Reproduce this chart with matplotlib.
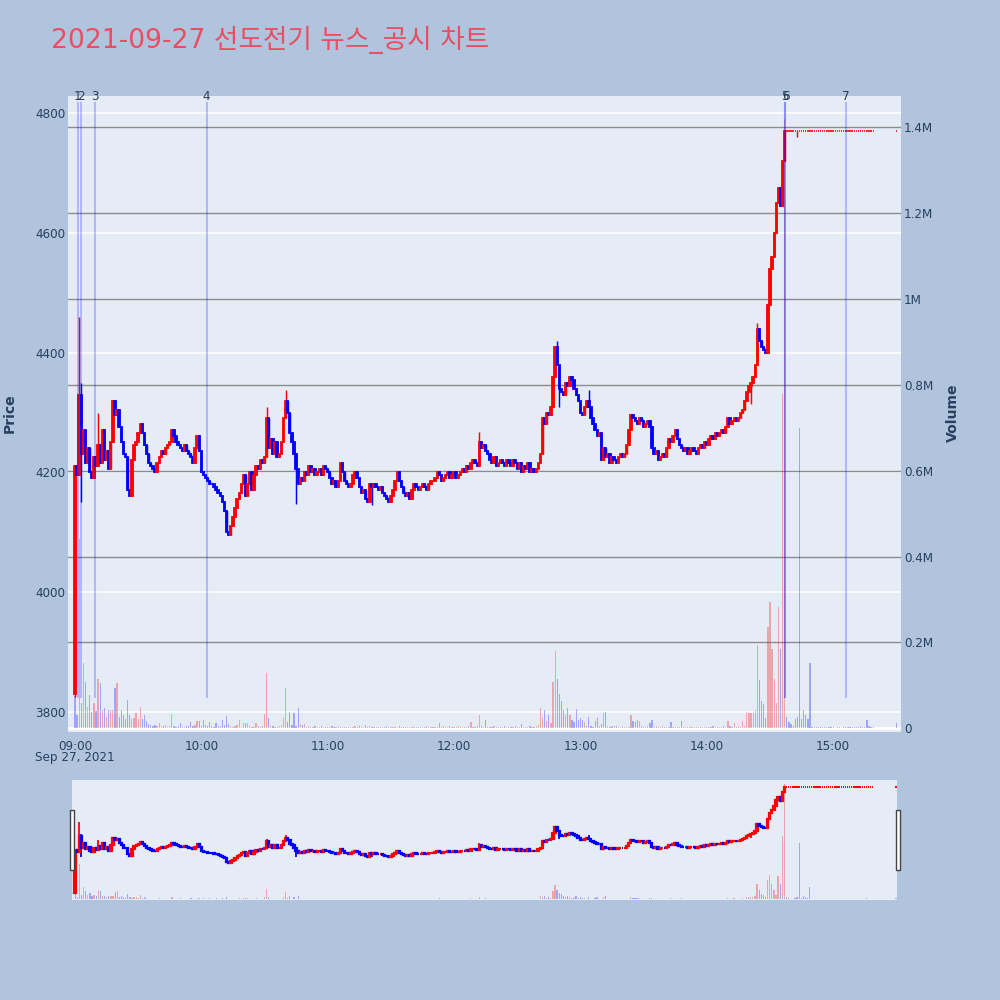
import matplotlib
matplotlib.use("Agg")
import matplotlib.pyplot as plt
import matplotlib.dates as mdates
import matplotlib.transforms as mtransforms
from matplotlib.patches import Rectangle
from datetime import datetime, timedelta

TITLE = "2021-09-27 선도전기 뉴스_공시 차트"
SESSION_START = datetime(2021, 9, 27, 9, 0)

# minute offsets from 09:00 (continuous session 09:00-15:19, closing auction 15:30)
minute_offsets = list(range(380)) + [390]
first_open = 3830

closes = [
    4210, 4195, 4330, 4230, 4270, 4215, 4240, 4200, 4190, 4225,
    4210, 4245, 4215, 4270, 4220, 4235, 4205, 4250, 4320, 4295,
    4305, 4275, 4250, 4230, 4225, 4170, 4160, 4220, 4245, 4250,
    4265, 4280, 4265, 4245, 4230, 4215, 4210, 4205, 4200, 4215,
    4225, 4235, 4230, 4240, 4245, 4250, 4270, 4260, 4250, 4245,
    4240, 4235, 4245, 4235, 4230, 4225, 4215, 4240, 4260, 4235,
    4200, 4195, 4190, 4185, 4180, 4180, 4175, 4170, 4165, 4160,
    4150, 4135, 4100, 4095, 4110, 4125, 4140, 4155, 4165, 4180,
    4195, 4160, 4180, 4200, 4170, 4195, 4210, 4205, 4220, 4215,
    4225, 4290, 4240, 4255, 4230, 4250, 4225, 4230, 4250, 4290,
    4320, 4300, 4265, 4250, 4230, 4205, 4180, 4190, 4185, 4200,
    4195, 4210, 4200, 4205, 4195, 4200, 4205, 4195, 4210, 4205,
    4200, 4190, 4180, 4185, 4175, 4185, 4215, 4200, 4185, 4180,
    4175, 4180, 4195, 4200, 4190, 4175, 4165, 4170, 4155, 4150,
    4180, 4175, 4180, 4175, 4170, 4175, 4165, 4160, 4155, 4150,
    4160, 4170, 4185, 4200, 4185, 4175, 4165, 4160, 4165, 4155,
    4170, 4180, 4175, 4170, 4175, 4180, 4175, 4170, 4180, 4185,
    4185, 4190, 4200, 4195, 4185, 4190, 4195, 4200, 4190, 4195,
    4200, 4190, 4195, 4200, 4205, 4200, 4210, 4205, 4215, 4220,
    4215, 4210, 4250, 4240, 4245, 4235, 4230, 4220, 4215, 4225,
    4210, 4215, 4220, 4215, 4210, 4220, 4215, 4210, 4220, 4215,
    4205, 4215, 4200, 4210, 4205, 4215, 4200, 4205, 4200, 4205,
    4215, 4230, 4290, 4280, 4300, 4295, 4310, 4360, 4410, 4380,
    4340, 4335, 4330, 4350, 4345, 4360, 4355, 4340, 4330, 4320,
    4300, 4295, 4310, 4320, 4310, 4290, 4280, 4270, 4260, 4265,
    4220, 4240, 4225, 4230, 4215, 4225, 4220, 4215, 4225, 4230,
    4225, 4230, 4245, 4270, 4295, 4290, 4285, 4280, 4290, 4285,
    4275, 4280, 4285, 4275, 4240, 4230, 4235, 4220, 4225, 4230,
    4225, 4240, 4255, 4250, 4260, 4270, 4255, 4245, 4240, 4235,
    4240, 4230, 4235, 4240, 4235, 4230, 4240, 4245, 4240, 4250,
    4245, 4255, 4260, 4255, 4265, 4260, 4265, 4270, 4265, 4275,
    4290, 4280, 4285, 4290, 4285, 4290, 4300, 4305, 4320, 4335,
    4345, 4350, 4360, 4380, 4440, 4420, 4410, 4405, 4400, 4480,
    4540, 4560, 4600, 4650, 4675, 4645, 4720, 4770, 4770, 4770,
    4770, 4770, 4770, 4770, 4770, 4770, 4770, 4770, 4770, 4770,
    4770, 4770, 4770, 4770, 4770, 4770, 4770, 4770, 4770, 4770,
    4770, 4770, 4770, 4770, 4770, 4770, 4770, 4770, 4770, 4770,
    4770, 4770, 4770, 4770, 4770, 4770, 4770, 4770, 4770, 4770,
    4770,
]

wick_highs = {2: 4460, 3: 4350, 11: 4300, 91: 4310, 100: 4338, 192: 4268,
              229: 4420, 244: 4338, 324: 4450}
wick_lows = {0: 3825, 3: 4150, 105: 4147, 141: 4145, 230: 4310, 321: 4315,
             343: 4760}

volumes_k = [
    75, 30, 440, 60, 151, 107, 49, 77, 37, 58,
    40, 116, 105, 42, 47, 26, 42, 42, 42, 95,
    105, 26, 42, 30, 21, 65, 30, 21, 23, 35,
    21, 49, 21, 30, 16, 10, 8, 6, 7, 5,
    12, 6, 5, 8, 4, 6, 33, 5, 4, 6,
    12, 4, 3, 5, 6, 14, 5, 8, 16, 16,
    6, 19, 8, 5, 14, 6, 4, 12, 5, 6,
    19, 8, 28, 10, 6, 4, 5, 8, 19, 4,
    12, 12, 12, 5, 4, 3, 12, 6, 4, 5,
    33, 128, 23, 6, 5, 4, 3, 5, 8, 23,
    93, 14, 37, 8, 35, 6, 47, 10, 8, 10,
    4, 5, 3, 4, 6, 3, 2, 5, 4, 3,
    4, 3, 5, 2, 3, 6, 4, 3, 2, 4,
    3, 2, 4, 5, 3, 6, 2, 3, 8, 4,
    5, 3, 2, 4, 3, 2, 4, 3, 5, 2,
    3, 4, 2, 3, 5, 2, 3, 4, 2, 3,
    4, 2, 3, 2, 4, 3, 2, 5, 3, 2,
    3, 4, 2, 12, 3, 5, 4, 2, 6, 3,
    4, 2, 5, 3, 4, 2, 3, 5, 14, 4,
    3, 6, 30, 5, 4, 19, 3, 2, 4, 5,
    2, 4, 3, 2, 5, 3, 2, 4, 3, 5,
    2, 3, 9, 4, 3, 2, 5, 3, 4, 6,
    8, 47, 23, 42, 16, 30, 12, 109, 181, 116,
    81, 63, 42, 30, 47, 30, 19, 14, 44, 19,
    23, 19, 14, 6, 26, 5, 4, 16, 23, 5,
    9, 35, 37, 5, 3, 5, 5, 5, 3, 2,
    3, 2, 4, 3, 30, 16, 14, 19, 16, 5,
    4, 3, 5, 12, 19, 3, 5, 2, 4, 5,
    3, 4, 2, 14, 3, 4, 2, 3, 16, 4,
    3, 3, 2, 4, 3, 2, 3, 2, 4, 3,
    2, 3, 4, 5, 3, 2, 4, 3, 5, 2,
    16, 5, 3, 12, 4, 5, 3, 16, 6, 35,
    35, 35, 35, 42, 193, 112, 63, 56, 23, 237,
    295, 185, 114, 60, 283, 185, 779, 1420, 26, 14,
    9, 5, 21, 26, 700, 21, 42, 30, 21, 153,
    3, 2, 4, 2, 3, 2, 2, 3, 2, 2,
    2, 1, 2, 2, 1, 2, 2, 3, 2, 2,
    4, 3, 2, 5, 3, 2, 19, 5, 3, 2,
    13,
]

news_times = ["09:01:20", "09:02:40", "09:09:20", "10:02:30",
              "14:37:10", "14:37:20", "15:06:10"]
news_labels = ["1", "2", "3", "4", "5", "6", "7"]

price_ticks = [3800, 4000, 4200, 4400, 4600, 4800]
volume_ticks = [0, 200000, 400000, 600000, 800000, 1000000, 1200000, 1400000]
volume_tick_labels = ["0", "0.2M", "0.4M", "0.6M", "0.8M", "1M", "1.2M", "1.4M"]
hour_ticks = ["09:00", "10:00", "11:00", "12:00", "13:00", "14:00", "15:00"]

# ---------------------------------------------------------------- derived
assert len(closes) == len(minute_offsets) == len(volumes_k)
times = [SESSION_START + timedelta(minutes=m) for m in minute_offsets]
xs = mdates.date2num(times)
opens = [first_open] + closes[:-1]
highs = [max(o, c, wick_highs.get(i, c)) for i, (o, c) in enumerate(zip(opens, closes))]
lows = [min(o, c, wick_lows.get(i, c)) for i, (o, c) in enumerate(zip(opens, closes))]
volumes = [v * 1000 for v in volumes_k]

RED, BLUE = "#ff0000", "#0000ff"
candle_cols = []
state, prev_c = True, None
for o, c in zip(opens, closes):
    if c > o:
        state = True
    elif c < o:
        state = False
    elif prev_c is not None and c != prev_c:
        state = c > prev_c
    candle_cols.append(RED if state else BLUE)
    prev_c = c
vol_cols = [BLUE] + [RED if closes[i] > closes[i - 1] else BLUE for i in range(1, len(closes))]

MIN = 1.0 / 1440.0
x0 = mdates.date2num(SESSION_START)
PRICE_LIM = (3767, 4829)
VOL_LIM = (-7900, 1473600)

TXT = "#2a3f5f"
BG = "#e5ecf6"

fig = plt.figure(figsize=(10, 10), dpi=100, facecolor="#b0c4de")


def draw_candles(a, body_w, lw):
    a.vlines(xs, lows, highs, colors=candle_cols, linewidth=lw * 0.8, zorder=3)
    moving = [i for i in range(len(xs)) if opens[i] != closes[i]]
    flat = [i for i in range(len(xs)) if opens[i] == closes[i]]
    a.bar([xs[i] for i in moving],
          [abs(closes[i] - opens[i]) for i in moving],
          bottom=[min(opens[i], closes[i]) for i in moving],
          width=body_w, color=[candle_cols[i] for i in moving],
          edgecolor=[candle_cols[i] for i in moving], linewidth=lw, zorder=3)
    a.hlines([closes[i] for i in flat],
             [xs[i] - body_w * 0.5 for i in flat],
             [xs[i] + body_w * 0.5 for i in flat],
             colors=[candle_cols[i] for i in flat], linewidth=lw * 0.9,
             capstyle="butt", zorder=3)


# ---------------------------------------------------------------- main
ax = fig.add_axes([0.068, 0.2683, 0.833, 0.636])
ax.set_facecolor(BG)
for s in ax.spines.values():
    s.set_visible(False)
ax.set_xlim(x0 - 3.3 * MIN, x0 + 392.2 * MIN)
ax.set_ylim(*PRICE_LIM)
ax.set_yticks(price_ticks)
ax.grid(axis="y", color="white", linewidth=1.1)
ax.grid(axis="x", visible=False)
ax.set_axisbelow(True)
# volume grid (drawn beneath the candles)
for v in volume_ticks:
    frac = (v - VOL_LIM[0]) / (VOL_LIM[1] - VOL_LIM[0])
    if v == 0:
        ax.plot([0, 1], [frac, frac], transform=ax.transAxes, color="white", lw=2, zorder=0.6)
    else:
        ax.plot([0, 1], [frac, frac], transform=ax.transAxes, color="#8c8c8c", lw=1, zorder=0.6)
draw_candles(ax, 0.65 * MIN, 1.3)

ax.set_xticks([mdates.date2num(datetime.strptime("2021-09-27 " + h, "%Y-%m-%d %H:%M")) for h in hour_ticks])
ax.set_xticklabels(hour_ticks)
ax.tick_params(axis="x", length=0, pad=6, labelsize=8.64, labelcolor=TXT)
ax.tick_params(axis="y", length=0, pad=2, labelsize=8.64, labelcolor=TXT)

axv = ax.twinx()
for s in axv.spines.values():
    s.set_visible(False)
axv.set_ylim(*VOL_LIM)
axv.set_yticks(volume_ticks)
axv.set_yticklabels(volume_tick_labels)
axv.tick_params(axis="y", length=0, pad=2, labelsize=8.64, labelcolor=TXT)
axv.grid(False)
axv.bar(xs, volumes, width=0.6 * MIN, color=vol_cols, alpha=0.3, linewidth=0, zorder=2)

blend = mtransforms.blended_transform_factory(axv.transData, axv.transAxes)
for t, lab in zip(news_times, news_labels):
    xn = mdates.date2num(datetime.strptime("2021-09-27 " + t, "%Y-%m-%d %H:%M:%S"))
    axv.axvline(xn, ymin=0.055, ymax=0.989, color="blue", alpha=0.22, lw=1.5, zorder=5)
    axv.text(xn, 0.9995, lab, transform=blend, ha="center", va="center",
             fontsize=8.64, color=TXT, zorder=6, clip_on=False)
axv.set_xlim(ax.get_xlim())

fig.text(0.075, 1 - 0.7575, "Sep 27, 2021", ha="center", va="center", fontsize=8.64, color=TXT)
fig.text(0.0095, 0.587, "Price", rotation=90, ha="center", va="center",
         fontsize=10.1, fontweight="bold", color=TXT)
fig.text(0.953, 0.587, "Volume", rotation=90, ha="center", va="center",
         fontsize=10.1, fontweight="bold", color=TXT)
fig.text(0.051, 0.96, TITLE, ha="left", va="center", fontsize=19.2, color="#e94e62",
         family=["DejaVu Sans", "Noto Sans CJK KR"])

# ---------------------------------------------------------------- range slider
sl = fig.add_axes([0.072, 0.100, 0.825, 0.120])
sl.set_facecolor(BG)
for s in sl.spines.values():
    s.set_visible(False)
sl.set_xlim(x0 - 1.5 * MIN, x0 + 390.5 * MIN)
sl.set_ylim(*PRICE_LIM)
sl.set_xticks([])
sl.set_yticks([])
draw_candles(sl, 0.65 * MIN, 1.6)
slv = sl.twinx()
for s in slv.spines.values():
    s.set_visible(False)
slv.set_ylim(*VOL_LIM)
slv.set_yticks([])
slv.bar(xs, volumes, width=0.6 * MIN, color=vol_cols, alpha=0.3, linewidth=0, zorder=2)
slv.set_xlim(sl.get_xlim())

for hx in (0.0695, 0.8955):
    fig.patches.append(Rectangle((hx, 0.130), 0.004, 0.060, transform=fig.transFigure,
                                 facecolor="white", edgecolor="#444444", lw=1, zorder=10))

fig.savefig("out.png", dpi=100, facecolor=fig.get_facecolor())
